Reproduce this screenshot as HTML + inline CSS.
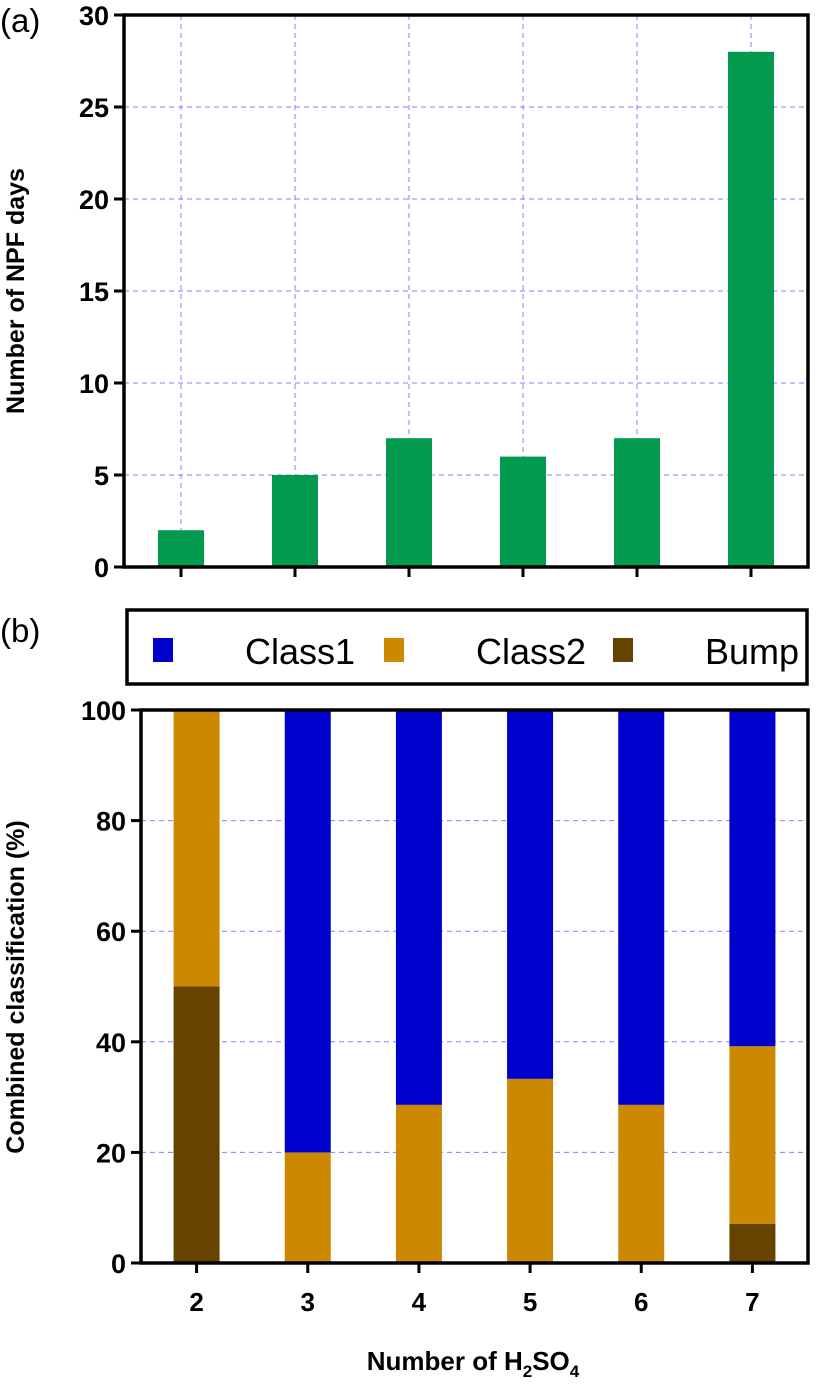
<!DOCTYPE html>
<html><head><meta charset="utf-8"><style>
body{margin:0;background:#fff;}
svg text{font-family:"Liberation Sans",Arial,sans-serif;}
</style></head><body>
<svg id="chart" width="826" height="1382" xmlns="http://www.w3.org/2000/svg"></svg>
<script>
const categories=["2","3","4","5","6","7"];
const npfDays=[2,5,7,6,7,28];
const topTicks=[0,5,10,15,20,25,30];
const bumpPct=[50,0,0,0,0,7.1];
const class2Pct=[50,20,28.6,33.3,28.6,32.1];
const class1Pct=[0,80,71.4,66.7,71.4,60.7];
const botTicks=[0,20,40,60,80,100];

const NS="http://www.w3.org/2000/svg";
const svg=document.getElementById('chart');
function mk(tag,attrs,parent,name){const e=document.createElementNS(NS,tag);for(const k in attrs)e.setAttribute(k,attrs[k]);(parent||svg).appendChild(e);


return e;}

// Top chart
const T={x0:124,x1:808,y0:15,y1:567,max:30};
const tx=i=>T.x0+(T.x1-T.x0)/categories.length*(i+0.5);
const ty=v=>T.y1-(T.y1-T.y0)*v/T.max;
const gTop=mk('g',{},svg,'panel-a');
topTicks.forEach(t=>{if(t>0&&t<T.max)mk('line',{x1:T.x0,x2:T.x1,y1:ty(t),y2:ty(t),stroke:'#8080ff','stroke-width':1,'stroke-dasharray':'5,4'},gTop,'grid-line-h');});
categories.forEach((c,i)=>{mk('line',{x1:tx(i),x2:tx(i),y1:T.y0,y2:T.y1,stroke:'#8080ff','stroke-width':1,'stroke-dasharray':'5,4'},gTop,'grid-line-v');});
npfDays.forEach((v,i)=>{mk('rect',{x:tx(i)-23,y:ty(v),width:46,height:ty(0)-ty(v),fill:'#039a50'},gTop,'bar-npf-'+categories[i]);});
mk('rect',{x:T.x0,y:T.y0,width:T.x1-T.x0,height:T.y1-T.y0,fill:'none',stroke:'#000','stroke-width':3.5},gTop,'plot-frame-a');
topTicks.forEach(t=>{mk('line',{x1:T.x0-10,x2:T.x0,y1:ty(t),y2:ty(t),stroke:'#000','stroke-width':3},gTop,'y-tick');
const tl=mk('text',{x:T.x0-15,y:ty(t)+10,'text-anchor':'end','font-size':27,'font-weight':'bold'},gTop,'y-tick-label');tl.textContent=t;});
categories.forEach((c,i)=>mk('line',{x1:tx(i),x2:tx(i),y1:T.y1,y2:T.y1+10,stroke:'#000','stroke-width':3},gTop,'x-tick'));
let t1=mk('text',{x:0,y:0,transform:'translate(24,291) rotate(-90)','text-anchor':'middle','font-size':25,'font-weight':'bold'},gTop,'y-axis-title-a');t1.textContent='Number of NPF days';
let la=mk('text',{x:0,y:32,'font-size':33},gTop,'panel-label-a');la.textContent='(a)';

// Legend
const gL=mk('g',{},svg,'legend');
mk('rect',{x:127,y:610,width:680,height:74,fill:'none',stroke:'#000','stroke-width':3.5},gL,'legend-box');
[['Class1','#0000cc',153],['Class2','#cc8800',384],['Bump','#664400',613]].forEach(([n,c,x])=>{
mk('rect',{x:x,y:638,width:20,height:24,fill:c},gL,'legend-swatch-'+n.toLowerCase());
const t=mk('text',{x:x+92,y:664,'font-size':36},gL,'legend-entry-'+n.toLowerCase());t.textContent=n;});
let lb=mk('text',{x:0,y:642,'font-size':33},svg,'panel-label-b');lb.textContent='(b)';

// Bottom chart
const B={x0:141,x1:808,y0:710,y1:1263,max:100};
const bx=i=>B.x0+(B.x1-B.x0)/categories.length*(i+0.5);
const by=v=>B.y1-(B.y1-B.y0)*v/B.max;
const gB=mk('g',{},svg,'panel-b');
botTicks.forEach(t=>{if(t>0&&t<B.max)mk('line',{x1:B.x0,x2:B.x1,y1:by(t),y2:by(t),stroke:'#8080ff','stroke-width':1,'stroke-dasharray':'5,4'},gB,'grid-line-h');});
categories.forEach((c,i)=>{
let base=0;
[[bumpPct,'#664400','bump'],[class2Pct,'#cc8800','class2'],[class1Pct,'#0000cc','class1']].forEach(([arr,col,n])=>{
const v=arr[i];if(v>0){mk('rect',{x:bx(i)-23,y:by(base+v),width:46,height:by(base)-by(base+v),fill:col},gB,'bar-'+n+'-'+c);}base+=v;});
});
mk('rect',{x:B.x0,y:B.y0,width:B.x1-B.x0,height:B.y1-B.y0,fill:'none',stroke:'#000','stroke-width':3.5},gB,'plot-frame-b');
botTicks.forEach(t=>{mk('line',{x1:B.x0-10,x2:B.x0,y1:by(t),y2:by(t),stroke:'#000','stroke-width':3},gB,'y-tick');
const tl=mk('text',{x:B.x0-15,y:by(t)+10,'text-anchor':'end','font-size':27,'font-weight':'bold'},gB,'y-tick-label');tl.textContent=t;});
categories.forEach((c,i)=>{mk('line',{x1:bx(i),x2:bx(i),y1:B.y1,y2:B.y1+10,stroke:'#000','stroke-width':3},gB,'x-tick');
const tl=mk('text',{x:bx(i),y:B.y1+48,'text-anchor':'middle','font-size':26,'font-weight':'bold'},gB,'x-tick-label');tl.textContent=c;});
let t2=mk('text',{x:0,y:0,transform:'translate(24,987) rotate(-90)','text-anchor':'middle','font-size':25,'font-weight':'bold'},gB,'y-axis-title-b');t2.textContent='Combined classification (%)';
let t3=mk('text',{x:473,y:1370,'text-anchor':'middle','font-size':26,'font-weight':'bold'},gB,'x-axis-title');
t3.innerHTML='Number of H<tspan font-size="17" dy="7">2</tspan><tspan dy="-7">SO</tspan><tspan font-size="17" dy="7">4</tspan>';
</script>
</body></html>
